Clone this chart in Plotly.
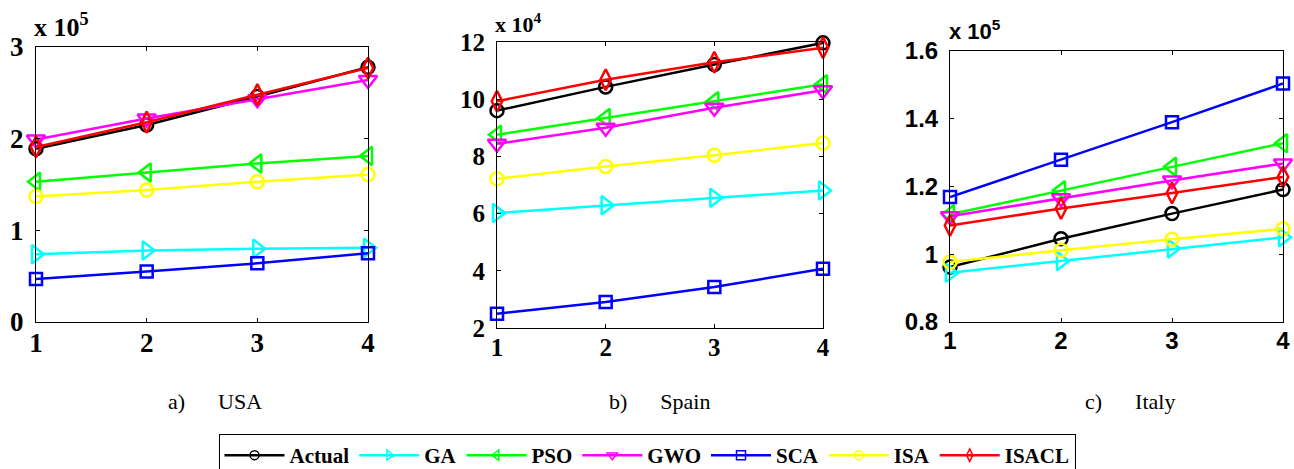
import plotly.graph_objects as go

x_vals = [1, 2, 3, 4]
methods = ["Actual", "GA", "PSO", "GWO", "SCA", "ISA", "ISACL"]
colors = ["#000000", "#00FFFF", "#00FF00", "#FF00FF", "#0000FF", "#FFFF00", "#FF0000"]
symbols = ["circle-open", "triangle-right-open", "triangle-left-open", "triangle-down-open",
           "square-open", "circle-open", "diamond-tall-open"]
msizes = [13, 16, 16, 16, 12, 13, 15]

# USA (x 10^5)
usa = {
    "Actual": [1.89, 2.15, 2.46, 2.78],
    "GA": [0.74, 0.78, 0.80, 0.81],
    "PSO": [1.53, 1.63, 1.73, 1.81],
    "GWO": [1.99, 2.22, 2.43, 2.64],
    "SCA": [0.47, 0.55, 0.64, 0.75],
    "ISA": [1.37, 1.44, 1.53, 1.61],
    "ISACL": [1.91, 2.18, 2.48, 2.77],
}
# Spain (x 10^4)
spain = {
    "Actual": [9.60, 10.43, 11.21, 11.97],
    "GA": [6.02, 6.29, 6.55, 6.81],
    "PSO": [8.76, 9.34, 9.93, 10.52],
    "GWO": [8.44, 9.00, 9.70, 10.31],
    "SCA": [2.50, 2.91, 3.43, 4.07],
    "ISA": [7.22, 7.65, 8.04, 8.47],
    "ISACL": [9.93, 10.68, 11.29, 11.80],
}
# Italy (x 10^5)
italy = {
    "Actual": [0.962, 1.046, 1.120, 1.191],
    "GA": [0.945, 0.980, 1.017, 1.050],
    "PSO": [1.118, 1.189, 1.258, 1.328],
    "GWO": [1.112, 1.165, 1.218, 1.268],
    "SCA": [1.169, 1.279, 1.390, 1.504],
    "ISA": [0.977, 1.012, 1.044, 1.075],
    "ISACL": [1.085, 1.135, 1.181, 1.228],
}

W, H = 1294, 469
panels = [
    dict(data=usa, xa="x", ya="y", dx=[36/W, 368/W], dy=[1-322/H, 1-47/H],
         yr=[0, 3], dt=1, fam="Liberation Serif", fs=27, exp="x 10<sup>5</sup>", efs=26,
         ex=33/W, ey=1-26/H, cap="a)      USA", cx=215/W),
    dict(data=spain, xa="x2", ya="y2", dx=[497/W, 823/W], dy=[1-328/H, 1-42/H],
         yr=[2, 12], dt=2, fam="Liberation Serif", fs=25, exp="x 10<sup>4</sup>", efs=22,
         ex=494/W, ey=1-23/H, cap="b)      Spain", cx=660/W),
    dict(data=italy, xa="x3", ya="y3", dx=[950/W, 1283/W], dy=[1-322/H, 1-51/H],
         yr=[0.8, 1.6], dt=0.2, fam="Liberation Sans", fs=24, exp="x 10<sup>5</sup>", efs=22,
         ex=948/W, ey=1-30/H, cap="c)      Italy", cx=1130/W),
]

fig = go.Figure()
layout = {}
annotations = []
for i, p in enumerate(panels):
    for m, c, s, ms in zip(methods, colors, symbols, msizes):
        fig.add_trace(go.Scatter(
            x=x_vals, y=p["data"][m], mode="lines+markers", name=m,
            line=dict(color=c, width=2.5),
            marker=dict(symbol=s, size=ms, color=c, line=dict(width=2.5, color=c)),
            xaxis=p["xa"], yaxis=p["ya"], showlegend=False, cliponaxis=False))
    sfx = "" if i == 0 else str(i + 1)
    layout["xaxis" + sfx] = dict(
        domain=p["dx"], anchor="y" + sfx, range=[1, 4], tickvals=[1, 2, 3, 4],
        showline=True, linecolor="black", linewidth=1, mirror="ticks", ticks="inside",
        ticklen=4, tickcolor="black", showgrid=False, zeroline=False, automargin=False,
        ticklabelstandoff=-3,
        tickfont=dict(family=p["fam"], size=p["fs"], color="black", weight="bold"))
    layout["yaxis" + sfx] = dict(
        domain=p["dy"], anchor="x" + sfx, range=p["yr"], dtick=p["dt"], tick0=p["yr"][0],
        showline=True, linecolor="black", linewidth=1, mirror="ticks", ticks="inside",
        ticklen=4, tickcolor="black", showgrid=False, zeroline=False, automargin=False,
        ticklabelstandoff=6,
        tickfont=dict(family=p["fam"], size=p["fs"], color="black", weight="bold"))
    annotations.append(dict(text=p["exp"], x=p["ex"], y=p["ey"], xref="paper", yref="paper",
                            xanchor="left", yanchor="middle", showarrow=False, borderpad=0,
                            font=dict(family=p["fam"], size=p["efs"], color="black", weight="bold")))
    annotations.append(dict(text=p["cap"], x=p["cx"], y=1-401/H, xref="paper", yref="paper",
                            xanchor="center", yanchor="middle", showarrow=False,
                            font=dict(family="Liberation Serif", size=22, color="black")))

# legend-only traces
for m, c, s in zip(methods, colors, symbols):
    fig.add_trace(go.Scatter(
        x=[None], y=[None], mode="lines+markers", name=m,
        line=dict(color=c, width=2.5),
        marker=dict(symbol=s, size=9, color=c, line=dict(width=1.5, color=c)),
        showlegend=True))

fig.update_layout(
    width=W, height=H, margin=dict(l=0, r=0, t=0, b=0, autoexpand=False),
    plot_bgcolor="white", paper_bgcolor="white",
    annotations=annotations,
    legend=dict(orientation="h", x=0.5, xanchor="center", xref="container",
                y=1-434/H, yanchor="top", yref="container",
                bordercolor="black", borderwidth=1, bgcolor="white",
                font=dict(family="Liberation Serif", size=21, color="black", weight="bold"),
                itemwidth=60, tracegroupgap=0),
    **layout)

fig.write_html("out.html")
